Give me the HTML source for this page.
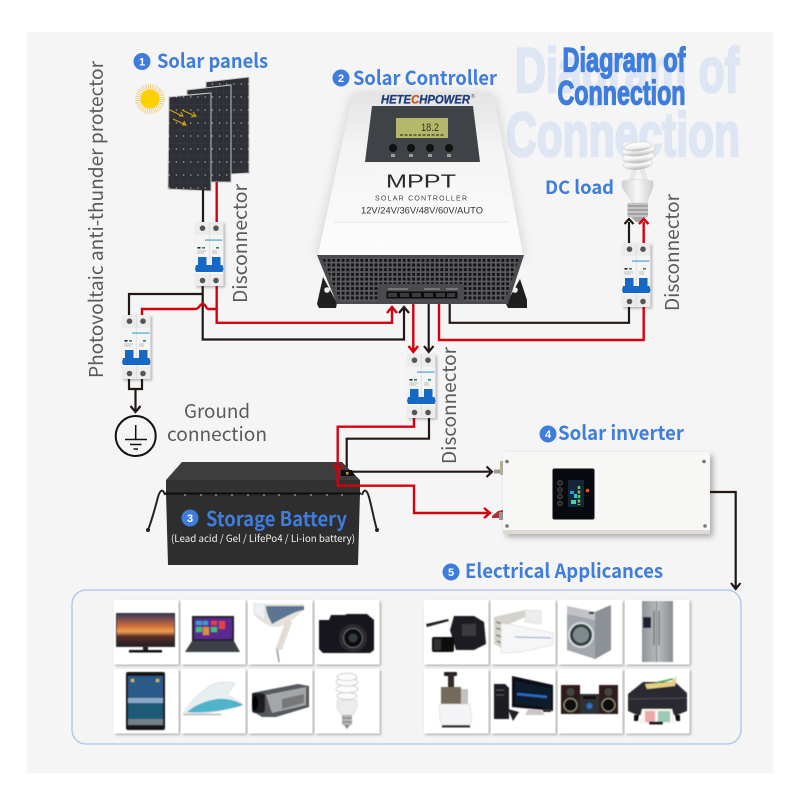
<!DOCTYPE html>
<html><head><meta charset="utf-8"><style>
html,body{margin:0;padding:0;background:#fff}
svg{display:block}
.l{font-family:"Noto Sans CJK JP","Liberation Sans",sans-serif;font-weight:700;fill:#3f7ddc}
.n{font-family:"Liberation Sans",sans-serif;font-weight:700;fill:#fff;font-size:11px;text-anchor:middle}
.g{font-family:"Noto Sans CJK JP","Liberation Sans",sans-serif;font-weight:400;fill:#5a5a5a;font-size:19px}
.k{fill:none;stroke:#231815;stroke-width:2.2}
.r{fill:none;stroke:#d7000f;stroke-width:2.4}
.t{font-family:"Liberation Sans",sans-serif;font-weight:700}
</style></head><body>
<svg width="800" height="800" viewBox="0 0 800 800" xmlns="http://www.w3.org/2000/svg">
<defs>
<filter id="sh" x="-20%" y="-20%" width="150%" height="150%"><feDropShadow dx="1.5" dy="1.5" stdDeviation="1.3" flood-color="#000" flood-opacity=".28"/></filter>
<filter id="sh2" x="-20%" y="-20%" width="150%" height="150%"><feDropShadow dx="3" dy="3" stdDeviation="3" flood-color="#000" flood-opacity=".3"/></filter>
<filter id="sh3" x="-20%" y="-20%" width="140%" height="140%"><feDropShadow dx="0" dy="2" stdDeviation="6" flood-color="#000" flood-opacity=".18"/></filter>
<filter id="bl"><feGaussianBlur stdDeviation=".45"/></filter>
<pattern id="grill" width="4.7" height="4.7" patternUnits="userSpaceOnUse" x="322" y="258"><rect width="4.7" height="4.7" fill="#5b5c60"/><rect x=".8" y=".8" width="3" height="3" fill="#141414"/></pattern>
<pattern id="cells" width="7.2" height="13" patternUnits="userSpaceOnUse"><rect width="7.2" height="13" fill="#2e3036"/><path d="M0 0V13M0 0H7.2" stroke="#42454c" stroke-width=".5"/><circle cx="3.6" cy="6" r=".65" fill="#d5d5d5"/></pattern>
<linearGradient id="sunset" x1="0" y1="0" x2="0" y2="1"><stop offset="0" stop-color="#3c3a5c"/><stop offset=".35" stop-color="#c8683c"/><stop offset=".55" stop-color="#f0a050"/><stop offset=".7" stop-color="#5a3028"/><stop offset="1" stop-color="#241c24"/></linearGradient>
<linearGradient id="steel" x1="0" y1="0" x2="1" y2="0"><stop offset="0" stop-color="#8f9497"/><stop offset=".5" stop-color="#b9bdbf"/><stop offset="1" stop-color="#8a8f92"/></linearGradient>
<linearGradient id="top" x1="0" y1="0" x2="0" y2="1"><stop offset="0" stop-color="#e4e4e4"/><stop offset=".35" stop-color="#f4f4f4"/><stop offset="1" stop-color="#fcfcfc"/></linearGradient>
<linearGradient id="coil" x1="0" y1="0" x2="0" y2="1"><stop offset="0" stop-color="#fff"/><stop offset=".6" stop-color="#f4f4f4"/><stop offset="1" stop-color="#b4b4b4"/></linearGradient>
<linearGradient id="coll" x1="0" y1="0" x2="1" y2="0"><stop offset="0" stop-color="#d0d0d0"/><stop offset=".5" stop-color="#f8f8f8"/><stop offset="1" stop-color="#cfcfcf"/></linearGradient>
<g id="brk">
<rect x="0" y="0" width="28.5" height="64" fill="#f4f4f4" filter="url(#sh)"/>
<rect x="0" y="0" width="28.5" height="13" fill="#ececec"/>
<rect x="0" y="52" width="28.5" height="12" fill="#ececec"/>
<path d="M14.2 0V64" stroke="#d5d5d5" stroke-width=".6"/>
<circle cx="7.5" cy="6.2" r="2.8" fill="#555"/><circle cx="21" cy="6.2" r="2.8" fill="#555"/>
<circle cx="7.5" cy="58.5" r="2.8" fill="#555"/><circle cx="21" cy="58.5" r="2.8" fill="#555"/>
<rect x="10" y="17.5" width="17.5" height="1.1" fill="#3b9bd0"/>
<rect x="2.5" y="25" width="3" height="1.6" fill="#222"/><rect x="7" y="25" width="3" height="1.6" fill="#2a8a5a"/><rect x="21" y="25" width="3" height="1.6" fill="#2a8a5a"/>
<path d="M2 29H11M2 31H9M17 29H22M17 31H22" stroke="#888" stroke-width=".6"/>
<rect x="3" y="35" width="8.5" height="9" fill="#1568c4"/><rect x="17" y="35" width="8.5" height="9" fill="#1568c4"/>
<path d="M1 43H27.5L28.5 47L27.5 50H1L0 47Z" fill="#1568c4"/>
</g>
</defs>

<rect width="800" height="800" fill="#fff"/>
<rect x="27" y="32" width="746" height="741" fill="#f5f5f5"/>

<!-- Watermark title -->
<text class="t" x="515" y="92" font-size="63" fill="#dfe6f3" stroke="#dfe6f3" stroke-width="2.6" textLength="224" lengthAdjust="spacingAndGlyphs">Diagram of</text>
<text class="t" x="506" y="156" font-size="62" fill="#dfe6f3" stroke="#dfe6f3" stroke-width="2.6" textLength="234" lengthAdjust="spacingAndGlyphs">Connection</text>
<!-- Title -->
<text class="t" x="562.5" y="71.5" font-size="34" fill="#3f7ddc" stroke="#3f7ddc" stroke-width="1.3" textLength="123" lengthAdjust="spacingAndGlyphs">Diagram of</text>
<text class="t" x="557.5" y="104.5" font-size="34" fill="#3f7ddc" stroke="#3f7ddc" stroke-width="1.3" textLength="128" lengthAdjust="spacingAndGlyphs">Connection</text>

<!-- Labels -->
<circle cx="142" cy="61.5" r="8.5" fill="#3f7ddc"/><text class="n" x="142" y="65.5">1</text>
<text class="l" x="157" y="68" font-size="19.5" textLength="111" lengthAdjust="spacingAndGlyphs">Solar panels</text>
<circle cx="341" cy="78" r="8.5" fill="#3f7ddc"/><text class="n" x="341" y="82">2</text>
<text class="l" x="353" y="85" font-size="19.5" textLength="144" lengthAdjust="spacingAndGlyphs">Solar Controller</text>
<text class="l" x="545" y="194" font-size="18.5" textLength="69" lengthAdjust="spacingAndGlyphs">DC load</text>
<circle cx="548" cy="434" r="8.5" fill="#3f7ddc"/><text class="n" x="548" y="438">4</text>
<text class="l" x="558" y="440" font-size="19.5" textLength="126" lengthAdjust="spacingAndGlyphs">Solar inverter</text>
<circle cx="451" cy="572" r="8.5" fill="#3f7ddc"/><text class="n" x="451" y="576">5</text>
<text class="l" x="465" y="578" font-size="19.5" textLength="198" lengthAdjust="spacingAndGlyphs">Electrical Applicances</text>

<text class="g" x="184" y="418" textLength="66" lengthAdjust="spacingAndGlyphs">Ground</text>
<text class="g" x="167" y="441" textLength="100" lengthAdjust="spacingAndGlyphs">connection</text>
<text class="g" transform="translate(103,378) rotate(-90)" font-size="19.5" textLength="317" lengthAdjust="spacingAndGlyphs">Photovoltaic anti-thunder protector</text>
<text class="g" transform="translate(247,303) rotate(-90)" textLength="119" lengthAdjust="spacingAndGlyphs">Disconnector</text>
<text class="g" transform="translate(456,464) rotate(-90)" textLength="117" lengthAdjust="spacingAndGlyphs">Disconnector</text>
<text class="g" transform="translate(679,311) rotate(-90)" textLength="117" lengthAdjust="spacingAndGlyphs">Disconnector</text>

<!-- Sun -->
<g transform="translate(150,99)">
<circle r="11.5" fill="none" stroke="#efb93a" stroke-width="7" stroke-dasharray=".7 1.3" opacity=".8"/>
<circle r="9.5" fill="#ffd000"/>
</g>
<!-- Solar panels -->
<polygon points="206,82 249,77 249,173 231,174 231,85 206,88" fill="url(#cells)" stroke="#c4c4c4" stroke-width="1"/>
<polygon points="187,90 231,85 231,182 211,182 211,93 187,95" fill="url(#cells)" stroke="#c4c4c4" stroke-width="1"/>
<polygon points="169,97 211,93 211,191 168,189" fill="url(#cells)" stroke="#c4c4c4" stroke-width="1"/>
<g stroke="#d8a800" stroke-width="1" fill="none">
<path d="M170 110L182 116M179 116L183 116L181 112"/>
<path d="M182 110L195 116M191 117L196 116L193 112"/>
<path d="M173 119L186 125M182 125L186 125L184 121"/>
</g>

<!-- Solar wires -->
<path class="k" d="M203 190V222"/>
<path class="r" d="M216.7 182V222"/>

<!-- Controller -->
<polygon points="323,277 337,303 336,308 319,308 317,304" fill="#1f1f1f"/>
<polygon points="520,279 527,300 527,308 508,308 506,304" fill="#1f1f1f"/>
<circle cx="327" cy="290" r="2.8" fill="#eee"/><circle cx="515" cy="290" r="2.8" fill="#eee"/>
<polygon points="353,93 493,93 523,255 318,255" fill="url(#top)" filter="url(#sh3)"/>
<path d="M334 222H508" stroke="#e6e6e6" stroke-width="1"/>
<polygon points="317,255 524,255 508,304 337,304" fill="#4a4b4f"/>
<polygon points="322,258 519,258 505,301 340,301" fill="url(#grill)"/>
<rect x="378" y="284" width="86" height="20" fill="#4a4b4f"/>
<path d="M388 289H408M424 289H440M446 289H458" stroke="#a4a4a4" stroke-width="1"/>
<rect x="386.5" y="291.5" width="71" height="7" fill="#0d0d0d"/>
<g fill="#3c3c3c"><rect x="388" y="293" width="9" height="4"/><rect x="400" y="293" width="9" height="4"/><rect x="412" y="293" width="9" height="4"/><rect x="424" y="293" width="9" height="4"/><rect x="436" y="293" width="9" height="4"/><rect x="447" y="293" width="8" height="4"/></g>
<text x="381" y="103.5" font-family="Liberation Sans,sans-serif" font-weight="700" font-style="italic" font-size="11.5" fill="#1d3a7a" stroke="#1d3a7a" stroke-width=".3" textLength="89" lengthAdjust="spacingAndGlyphs">HETE<tspan fill="#d2521e" stroke="#d2521e">C</tspan>HPOWER</text>
<text x="471" y="98" font-family="Liberation Sans,sans-serif" font-size="5" fill="#444">®</text>
<polygon points="372,106 473,106 480,162 365,162" fill="#3f4247"/>
<rect x="396" y="118" width="52" height="20" fill="#b3b86c"/>
<text x="421" y="131" font-family="Liberation Sans,sans-serif" font-size="11" fill="#33351c" textLength="18" lengthAdjust="spacingAndGlyphs">18.2</text>
<path d="M400 135H444" stroke="#4e5128" stroke-width="1.6" stroke-dasharray="3 1.5"/>
<g fill="#111"><circle cx="393" cy="148" r="4"/><circle cx="411" cy="148" r="4"/><circle cx="430" cy="148" r="4"/><circle cx="449" cy="148" r="4"/></g>
<g fill="#9a9a9a"><rect x="391" y="154" width="4" height="3"/><rect x="409" y="154" width="4" height="3"/><rect x="428" y="154" width="4" height="3"/><rect x="447" y="154" width="4" height="3"/></g>
<text x="386" y="187.5" font-family="Liberation Sans,sans-serif" font-size="18" fill="#2a2a2a" textLength="70" lengthAdjust="spacingAndGlyphs">MPPT</text>
<text x="375" y="200.5" font-family="Liberation Sans,sans-serif" font-size="7" fill="#444" textLength="92" lengthAdjust="spacing">SOLAR CONTROLLER</text>
<text x="361" y="213.5" font-family="Liberation Sans,sans-serif" font-size="9.5" fill="#333" textLength="122" lengthAdjust="spacingAndGlyphs">12V/24V/36V/48V/60V/AUTO</text>

<!-- Wires main -->
<path class="k" d="M202.7 285V339.5H404V309"/>
<path class="k" d="M202.7 294H129V315"/>
<path class="r" d="M216.7 285V322.8H392V309"/>
<path class="r" d="M216.7 309H208C206 309 206 304 202.7 304C199.5 304 199.5 309 195 309H142V315"/>
<path class="k" d="M129 379V389H142V379M135.5 389V411"/>
<path class="k" stroke-width="2.4" d="M130.5 406L135.5 412L140.5 406"/>
<!-- ground -->
<circle cx="135.7" cy="436" r="20" fill="none" stroke="#111" stroke-width="2"/>
<path d="M135.7 425V439M125 439.5H147M130 444.5H141.5M133.5 449H138" stroke="#111" stroke-width="1.5" fill="none"/>
<!-- Ctrl arrows -->
<path class="r" stroke-width="2.6" d="M387 313L392 307L397 313"/>
<path class="k" stroke-width="2.6" d="M399 313L404 307L409 313"/>
<path class="r" d="M413.3 304V351"/><path class="r" stroke-width="2.6" d="M408.5 346L413.3 352L418 346"/>
<path class="k" d="M428.7 304V351"/><path class="k" stroke-width="2.6" d="M424 346L428.7 352L433.5 346"/>
<path class="r" d="M439 304V340H643.7V307"/>
<path class="k" d="M449.7 304V322.8H629V307"/>

<!-- Battery wires -->
<path class="k" d="M429 417V438.7H346.7V471.7H490"/>
<path class="k" stroke-width="2.6" d="M486.5 466.5L492 471.7L486.5 477"/>
<!-- Battery -->
<path d="M165 495C163 488 160 490 158 497C155 508 152 520 148 530" fill="none" stroke="#222" stroke-width="2"/>
<path d="M362 495C364 488 367 490 369 497C372 508 374 520 377 530" fill="none" stroke="#222" stroke-width="2"/>
<circle cx="148" cy="530" r="2" fill="#222"/><circle cx="377" cy="530" r="2" fill="#222"/>
<polygon points="182,462 342,462 360,480 166,480" fill="#3d3d3e"/>
<rect x="166" y="480" width="194" height="13" fill="#323233"/>
<polygon points="166,493 360,493 358,565 168,565" fill="#2e2e2f"/>
<path d="M165 493.5H361" stroke="#0d0d0d" stroke-width="2"/>
<g fill="#aaa"><circle cx="185" cy="495" r=".9"/><circle cx="201" cy="495" r=".9"/><circle cx="216" cy="495" r=".9"/><circle cx="232" cy="495" r=".9"/><circle cx="248" cy="495" r=".9"/><circle cx="264" cy="495" r=".9"/><circle cx="279" cy="495" r=".9"/><circle cx="295" cy="495" r=".9"/><circle cx="311" cy="495" r=".9"/><circle cx="327" cy="495" r=".9"/><circle cx="342" cy="495" r=".9"/></g>
<polygon points="341,470 352,470 355,476 341,476" fill="#0e0e0e"/>
<rect x="346" y="472" width="2.5" height="2.5" fill="#c8a040"/>
<circle cx="190" cy="518" r="8.5" fill="#3f7ddc"/><text class="n" x="190" y="522">3</text>
<text class="l" x="206" y="526" font-size="20" textLength="141" lengthAdjust="spacingAndGlyphs">Storage Battery</text>
<text x="171" y="542" font-family="Noto Sans CJK JP,Liberation Sans,sans-serif" font-size="10" fill="#f2f2f2" textLength="184" lengthAdjust="spacingAndGlyphs">(Lead acid / Gel / LifePo4 / Li-ion battery)</text>
<path class="r" d="M414 417V426.7H337.7V485.7H414V513H490"/>
<path class="r" stroke-width="2.8" d="M484 508L490 513L484 518"/>
<path d="M333 464L338 471L343 465" fill="none" stroke="#d7000f" stroke-width="1.6"/>

<!-- Inverter -->
<rect x="494" y="469.5" width="9" height="4" fill="#999"/><rect x="500" y="461" width="4" height="14" fill="#b5b09a"/>
<polygon points="492,516 498,511 503,510 503,518 492,518" fill="#a33"/><rect x="499" y="512" width="5" height="8" fill="#999"/>
<rect x="503" y="452" width="207" height="82" rx="3" fill="#f7f7f5" filter="url(#sh2)"/>
<rect x="503" y="530" width="207" height="4" fill="#dedbd5"/>
<g fill="#777"><circle cx="507" cy="461.5" r="1.8"/><circle cx="704" cy="461.5" r="1.8"/><circle cx="507" cy="526" r="1.8"/><circle cx="705" cy="526" r="1.8"/></g>
<rect x="552.5" y="468.5" width="42" height="51" rx="2" fill="#070a0e"/>
<g fill="#222" stroke="#666" stroke-width=".6"><circle cx="560" cy="483" r="2.4"/><circle cx="560" cy="490" r="2.4"/><circle cx="560" cy="496.5" r="2.4"/><circle cx="560" cy="503.5" r="2.4"/></g>
<rect x="568" y="480" width="16" height="27" fill="#16263a"/>
<rect x="570" y="491" width="4" height="3" fill="#1c9fdc"/><rect x="574" y="494" width="3" height="4" fill="#2ec8d8"/><rect x="571" y="500" width="5" height="4" fill="#4fd0a0"/>
<path d="M579 486V505" stroke="#6fc84a" stroke-width="2.5" stroke-dasharray="3 1.5"/>
<circle cx="587.5" cy="490.5" r="1.8" fill="#f05020"/>
<path class="k" d="M710 492H735.7V588"/>

<!-- Breakers -->
<use href="#brk" x="195" y="222"/>
<use href="#brk" x="122" y="315"/>
<use href="#brk" x="407" y="354"/>
<use href="#brk" x="622" y="243"/>

<!-- Bulb -->
<g>
<path d="M631 181L635 169M646 181L642 169" stroke="#e8e8e8" stroke-width="5"/>
<path d="M622 181Q638 178 653 181V186C652 193 648 197 647 203H632C631 197 624 193 622 186Z" fill="url(#coll)" stroke="#cfcfcf" stroke-width=".5"/>
<rect x="627.5" y="203" width="20.5" height="14" rx="1" fill="#c4c4c4"/>
<path d="M627.5 206H648M627.5 210H648M627.5 214H648" stroke="#808080" stroke-width="1.1"/>
<path d="M631 217L636 222H641L646 217Z" fill="#a8a8a8"/>
<g fill="url(#coil)" stroke="#c8c8c8" stroke-width=".5">
<ellipse cx="638" cy="164" rx="14.5" ry="5.5" transform="rotate(-6 638 164)"/>
<ellipse cx="638.5" cy="157" rx="16" ry="6" transform="rotate(-6 638.5 157)"/>
<ellipse cx="638.5" cy="150" rx="16.5" ry="6" transform="rotate(-6 638.5 150)"/>
<ellipse cx="638" cy="146.5" rx="14" ry="4.5" transform="rotate(-6 638 146.5)"/>
</g>
</g>
<path class="k" d="M629 243V222"/><path class="k" stroke-width="2.6" d="M624.5 224L629 219L633.5 224"/>
<path class="r" d="M643.7 243V222"/><path class="r" stroke-width="2.6" d="M639 224L643.7 219L648.5 224"/>

<!-- Appliance panel -->
<rect x="72" y="590" width="669" height="154" rx="14" fill="#f4f4f4" stroke="#a9c4ea" stroke-width="1.3"/>
<path class="k" d="M735.7 585V589"/>
<path class="k" stroke-width="2.8" d="M731 583L735.7 589L740.5 583"/>

<!-- tiles -->
<g fill="#fff" filter="url(#sh)">
<rect x="114" y="600" width="64.5" height="64.5"/><rect x="181" y="600" width="64.5" height="64.5"/><rect x="248" y="600" width="64.5" height="64.5"/><rect x="315" y="600" width="64.5" height="64.5"/>
<rect x="114" y="669" width="64.5" height="64.5"/><rect x="181" y="669" width="64.5" height="64.5"/><rect x="248" y="669" width="64.5" height="64.5"/><rect x="315" y="669" width="64.5" height="64.5"/>
<rect x="424" y="600" width="64.5" height="64.5"/><rect x="491" y="600" width="64.5" height="64.5"/><rect x="558" y="600" width="64.5" height="64.5"/><rect x="625" y="600" width="64.5" height="64.5"/>
<rect x="424" y="669" width="64.5" height="64.5"/><rect x="491" y="669" width="64.5" height="64.5"/><rect x="558" y="669" width="64.5" height="64.5"/><rect x="625" y="669" width="64.5" height="64.5"/>
</g>
<g filter="url(#bl)">
<!-- TV -->
<g transform="translate(114,600)"><rect x="2" y="13" width="59" height="34" fill="#333"/><rect x="3" y="14" width="57" height="32" fill="url(#sunset)"/><rect x="29" y="47" width="5" height="4" fill="#222"/><rect x="15" y="50" width="33" height="2.5" fill="#111"/></g>
<!-- Laptop -->
<g transform="translate(181,600)"><rect x="11" y="16" width="42" height="25" fill="#222"/><rect x="13" y="18" width="38" height="21" fill="#5a2c90"/><g fill="#30a0d8"><rect x="15" y="21" width="6" height="4"/><rect x="22" y="21" width="5" height="4"/></g><g fill="#e84040"><rect x="30" y="21" width="6" height="4"/><rect x="38" y="21" width="6" height="8"/></g><g fill="#40c070"><rect x="15" y="27" width="6" height="5"/><rect x="30" y="27" width="6" height="5"/></g><rect x="22" y="27" width="6" height="8" fill="#e09030"/><polygon points="11,41 53,41 59,52 4,52" fill="#3d4148"/></g>
<!-- Dryer -->
<g transform="translate(248,600)"><path d="M6 4H56V9C50 16 38 26 28 27C18 27 9 18 6 14Z" fill="#e6e2dc"/><path d="M18 6H56V10C46 11 32 20 24 24C20 16 18 12 18 6Z" fill="#5c7590"/><path d="M6 4H17V20L6 14Z" fill="#eef2f6" stroke="#c0c8d0" stroke-width=".5"/><path d="M38 20L44 22L34 50H27Z" fill="#e4dcd4"/><path d="M29 49L31 62" stroke="#999" stroke-width="1.5"/></g>
<!-- Camera -->
<g transform="translate(315,600)"><path d="M4 20H14L16 15H30L32 14H52L59 20V50L55 53H8L4 49Z" fill="#17171a"/><circle cx="38" cy="38" r="14" fill="#2c2c30"/><circle cx="38" cy="38" r="9.5" fill="#0a0a0c" stroke="#666" stroke-width="1"/><circle cx="38" cy="38" r="4.5" fill="#303a40"/></g>
<!-- Tablet -->
<g transform="translate(114,669)"><rect x="12" y="3" width="39" height="58" rx="2" fill="#151515"/><rect x="14" y="7" width="35" height="49" fill="#8ba9c6"/><rect x="14" y="7" width="35" height="22" fill="#2a5a88"/><rect x="14" y="34" width="35" height="16" fill="#1c5a78"/><rect x="14" y="50" width="35" height="6" fill="#6f7f88"/><g fill="#d8c040"><rect x="17" y="10" width="3" height="3"/><rect x="42" y="10" width="3" height="3"/></g></g>
<!-- Iron -->
<g transform="translate(181,669)"><path d="M2 45C10 30 22 22 30 16C38 12 50 13 54 14C52 18 48 24 46 26C54 29 60 34 62 36C50 40 20 46 2 46Z" fill="#e9eef0" stroke="#c4cace" stroke-width=".5"/><path d="M6 43C14 36 24 32 36 30C46 29 56 32 62 36C48 41 20 45 6 43Z" fill="#4fb3ca"/><path d="M3 45.5H40" stroke="#aaa" stroke-width="1.2"/></g>
<!-- Camcorder -->
<g transform="translate(248,669)"><path d="M4 24L14 22L50 15L61 17V38L28 48H14L4 42Z" fill="#55585c"/><path d="M18 26L58 18V36L24 44Z" fill="#a4a7aa"/><rect x="4" y="24" width="13" height="20" rx="3" fill="#1e1e20"/><ellipse cx="7" cy="34" rx="3" ry="7" fill="#050505"/><path d="M34 30L56 25V34L34 40Z" fill="#777"/></g>
<!-- small bulb -->
<g transform="translate(315,669)"><g fill="#fbfbfb" stroke="#b8b8b8" stroke-width=".7"><ellipse cx="32" cy="27" rx="10" ry="3.5"/><ellipse cx="32" cy="20" rx="11" ry="3.8"/><ellipse cx="32" cy="13" rx="11" ry="4"/><ellipse cx="32" cy="8" rx="10" ry="3.8"/></g><path d="M22 31H42V40L38 46H26L22 40Z" fill="#ececec" stroke="#ccc" stroke-width=".5"/><rect x="27" y="46" width="10" height="10" fill="#b5b5b5"/><path d="M27 49H37M27 53H37" stroke="#777" stroke-width="1"/><path d="M29 56H35L32 60Z" fill="#888"/></g>
<!-- Pro Camera -->
<g transform="translate(424,600)"><path d="M2 24L24 19L25 21L3 27Z" fill="#222"/><path d="M30 16H50L60 22L62 44L50 50H32L26 30Z" fill="#1e1e20"/><rect x="8" y="37" width="22" height="15" rx="2" fill="#111"/><rect x="10" y="39" width="7" height="11" fill="#333"/><rect x="38" y="24" width="14" height="12" fill="#3a3a3e"/></g>
<!-- AC -->
<g transform="translate(491,600)"><path d="M3 17L34 10V17L14 26V50L3 44Z" fill="#d4d2cc"/><path d="M34 10L50 11V24L34 22Z" fill="#ececec" stroke="#ccc" stroke-width=".5"/><g stroke="#77736a" stroke-width="1.3"><path d="M5 22L12 24M5 28L12 30M5 35L11 37M6 41L11 43"/></g><path d="M10 23L22 25L62 33V45L30 52L10 53Z" fill="#f6f6f6" stroke="#d0d0d0" stroke-width=".5"/><path d="M24 37L60 38" stroke="#8ba2d0" stroke-width="1"/></g>
<!-- Washer -->
<g transform="translate(558,600)"><polygon points="9,6 37,12 53,5 53,50 37,59 9,50" fill="#a3a7ad"/><polygon points="37,12 53,5 53,50 37,59" fill="#8c9197"/><polygon points="9,6 37,12 37,20 9,14" fill="#c1c3c6"/><circle cx="23" cy="35" r="12" fill="#2e3a3e" stroke="#d8dadc" stroke-width="2"/><circle cx="23" cy="35" r="8" fill="#7f8a8d"/><rect x="31" y="12" width="5" height="2" fill="#111"/></g>
<!-- Fridge -->
<g transform="translate(625,600)"><rect x="17" y="1" width="31" height="61" fill="url(#steel)"/><path d="M31.5 1V62" stroke="#7a7f82" stroke-width="1"/><rect x="18" y="17" width="8" height="11" fill="#1a2430"/><path d="M29 11V45M34 11V45" stroke="#73787a" stroke-width="1.5"/></g>
<!-- Juicer -->
<g transform="translate(424,669)"><rect x="20" y="3" width="13" height="4" rx="1" fill="#222"/><rect x="24" y="5" width="6" height="14" fill="#322c28"/><rect x="17" y="18" width="20" height="17" fill="#75695c"/><path d="M37 20H44V40H37Z" fill="#c4c0bc"/><path d="M15 35H46L48 52L45 58H19L16 52Z" fill="#f4f4f6" stroke="#d0d0d2" stroke-width=".5"/><path d="M18 56H46V58.5H18Z" fill="#333"/></g>
<!-- PC -->
<g transform="translate(491,669)"><polygon points="3,15 14,15 18,19 18,50 3,50" fill="#1a1d22"/><path d="M5 21H13M5 26H13" stroke="#555" stroke-width="1"/><polygon points="21,7 62,16 62,42 21,38" fill="#0d0f14"/><polygon points="24,12 60,19 60,39 24,35" fill="#101a2c"/><path d="M26 25L56 28" stroke="#2a6ac0" stroke-width="2.5"/><polygon points="37,40 50,41 54,46 34,46" fill="#c8c8c8"/><polygon points="17,40 28,43 22,52" fill="#222"/><rect x="52" y="40" width="8" height="3" fill="#333"/></g>
<!-- Stereo -->
<g transform="translate(558,669)"><rect x="3" y="16" width="19" height="29" fill="#2e1c1c"/><rect x="41" y="16" width="19" height="29" fill="#2e1c1c"/><rect x="22" y="25" width="19" height="20" fill="#2f3134"/><circle cx="12.5" cy="23" r="4" fill="#444"/><circle cx="50.5" cy="23" r="4" fill="#444"/><circle cx="12.5" cy="36" r="6.5" fill="#111" stroke="#8a8f78" stroke-width="1.2"/><circle cx="50.5" cy="36" r="6.5" fill="#111" stroke="#8a8f78" stroke-width="1.2"/><circle cx="31.5" cy="37" r="3" fill="#2a70c0"/><rect x="25" y="27" width="13" height="3" fill="#111"/></g>
<!-- Printer -->
<g transform="translate(625,669)"><path d="M3 25L18 13H50L62 24V42L52 46H12L3 42Z" fill="#2c2c30"/><polygon points="20,15 46,13 52,7 50,17 22,20" fill="#e7d080"/><path d="M30 14L48 10" stroke="#50a050" stroke-width="1.5"/><path d="M3 30L62 29" stroke="#555" stroke-width=".8"/><polygon points="17,40 47,40 51,55 14,55" fill="#f8f6f0"/><rect x="20" y="42" width="10" height="11" fill="#e07878" opacity=".6"/><rect x="33" y="42" width="12" height="11" fill="#78b8a0" opacity=".7"/><rect x="24" y="52.5" width="14" height="3" fill="#1b1b1b"/><path d="M9 46H14L13 52H9ZM50 46H55V52H51Z" fill="#111"/></g>
</g>
</svg>
</body></html>
